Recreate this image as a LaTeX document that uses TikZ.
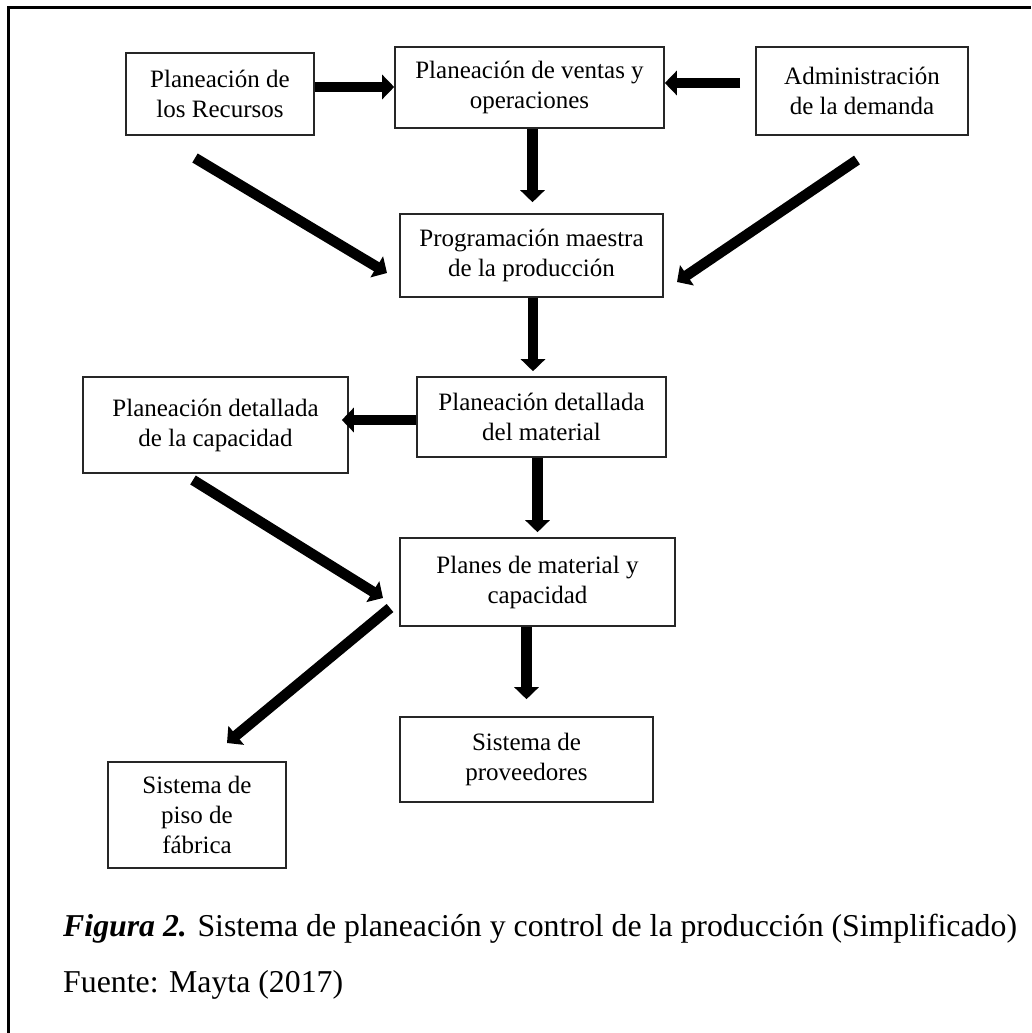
\documentclass[tikz,border=0pt]{standalone}
\usepackage{fontspec}
\setmainfont{Liberation Serif}
\usetikzlibrary{arrows.meta,calc}

\begin{document}
\begin{tikzpicture}[x=1pt,y=-1pt,
  box/.style={draw=black!85,line width=1.6pt,inner sep=0pt,align=center,
    font=\fontsize{25}{30}\selectfont},
  arr/.style={line width=10.5pt,-{Triangle[width=24pt,length=12pt]}},
  captext/.style={anchor=base west,inner sep=0pt,font=\fontsize{31.8}{36}\selectfont}]
\useasboundingbox (0,0) rectangle (1031,1033);

% frame: top and left rules
\draw[line width=3pt] (8,1033) -- (8,8) -- (1031,8);

% boxes
\node[box,minimum width=188pt,minimum height=82pt] (rec)  at (220,94)    {Planeación de\\los Recursos};
\node[box,minimum width=269pt,minimum height=81pt] (vtas) at (529.5,87.5) {Planeación de ventas y\\operaciones};
\node[box,minimum width=212pt,minimum height=88pt] (adm)  at (862,91)    {Administración\\de la demanda};
\node[box,minimum width=263pt,minimum height=83pt] (prog) at (531.5,255.5) {Programación maestra\\de la producción};
\node[box,minimum width=265pt,minimum height=96pt] (capd) at (215.5,425) {Planeación detallada\\de la capacidad};
\node[box,minimum width=249pt,minimum height=80pt] (mat)  at (541.5,417) {Planeación detallada\\del material};
\node[box,minimum width=275pt,minimum height=88pt] (plan) at (537.5,582) {Planes de material y\\capacidad};
\node[box,minimum width=253pt,minimum height=85pt] (prov) at (526.5,759.5) {Sistema de\\proveedores};
\node[box,minimum width=178pt,minimum height=106pt] (piso) at (197,815)  {Sistema de\\piso de\\fábrica};

% free ends of the connectors
\coordinate (admL) at (740,83);
\coordinate (recD) at (195,158);
\coordinate (progL) at (387,273);
\coordinate (admD) at (857,160);
\coordinate (progR) at (677,282);
\coordinate (capD) at (193,480);
\coordinate (planL) at (383,598);
\coordinate (planD) at (390,608);
\coordinate (pisoT) at (227,743);

% connectors
\draw[arr] (rec.east |- 0,87) -- (vtas.west |- 0,87);
\draw[arr] (admL) -- (vtas.east |- admL);
\draw[arr,shorten >=11pt] ([xshift=3pt]vtas.south) -- ([xshift=1pt]prog.north);
\draw[arr] (recD) -- (progL);
\draw[arr] (admD) -- (progR);
\draw[arr,shorten >=5pt] ([xshift=1.5pt]prog.south) -- ([xshift=1.5pt]prog.south |- mat.north);
\draw[arr,shorten >=-7pt] (mat.west |- 0,420) -- (capd.east |- 0,420);
\draw[arr,shorten >=5pt] (plan.north |- mat.south) -- (plan.north);
\draw[arr] (capD) -- (planL);
\draw[arr,shorten >=17pt] (prov.north |- plan.south) -- (prov.north);
\draw[arr] (planD) -- (pisoT);

% caption
\node[captext] (fig) at (63,936) {\textbf{\textit{Figura 2.}} Sistema de planeación y control de la producción (Simplificado)};
\node[captext] (src) at (63,992) {Fuente: Mayta (2017)};
\end{tikzpicture}
\end{document}
